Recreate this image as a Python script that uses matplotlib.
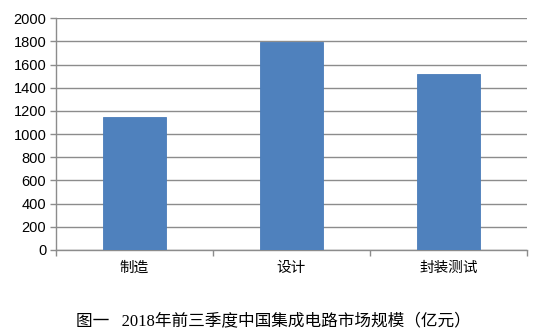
import matplotlib
matplotlib.use('Agg')
import matplotlib.pyplot as plt
import numpy as np

plt.rcParams['font.family'] = ['Liberation Sans', 'Noto Sans CJK SC', 'DejaVu Sans']

# 数据
categories = ['制造', '设计', '封装测试']
values = [1150, 1798, 1520]
yticks = [0, 200, 400, 600, 800, 1000, 1200, 1400, 1600, 1800, 2000]
title = '图一   2018年前三季度中国集成电路市场规模（亿元）'

fig = plt.figure(figsize=(5.6, 3.36), dpi=100)
ax = fig.add_axes([0.1, 0.256, 0.841, 0.69])

x = np.arange(len(categories))
ax.bar(x, values, width=0.4, color='#4F81BD', edgecolor='#4A7DBA', linewidth=0.6, zorder=3)

ax.set_xlim(-0.5, len(categories) - 0.5)
ax.set_ylim(0, 2000)
ax.set_yticks(yticks)
ax.set_yticklabels([str(v) for v in yticks], fontsize=10.5)
ax.yaxis.grid(True, color='#8c8c8c', linewidth=1.0, zorder=0)

ax.set_xticks(x)
ax.set_xticklabels(categories, fontsize=10.5)
ax.tick_params(axis='x', length=0, pad=8)
ax.set_xticks(np.arange(len(categories) + 1) - 0.5, minor=True)
ax.tick_params(axis='x', which='minor', length=4, color='#8c8c8c', width=1)
ax.tick_params(axis='y', length=4, color='#8c8c8c', width=1, pad=3)

for s in ['top', 'right']:
    ax.spines[s].set_visible(False)
for s in ['left', 'bottom']:
    ax.spines[s].set_color('#8c8c8c')
    ax.spines[s].set_linewidth(1.0)

fig.text(0.488, 0.045, title, ha='center', va='center', fontsize=12,
         family=['Liberation Serif', 'Noto Sans CJK SC'])

fig.savefig('out.png', dpi=100)
